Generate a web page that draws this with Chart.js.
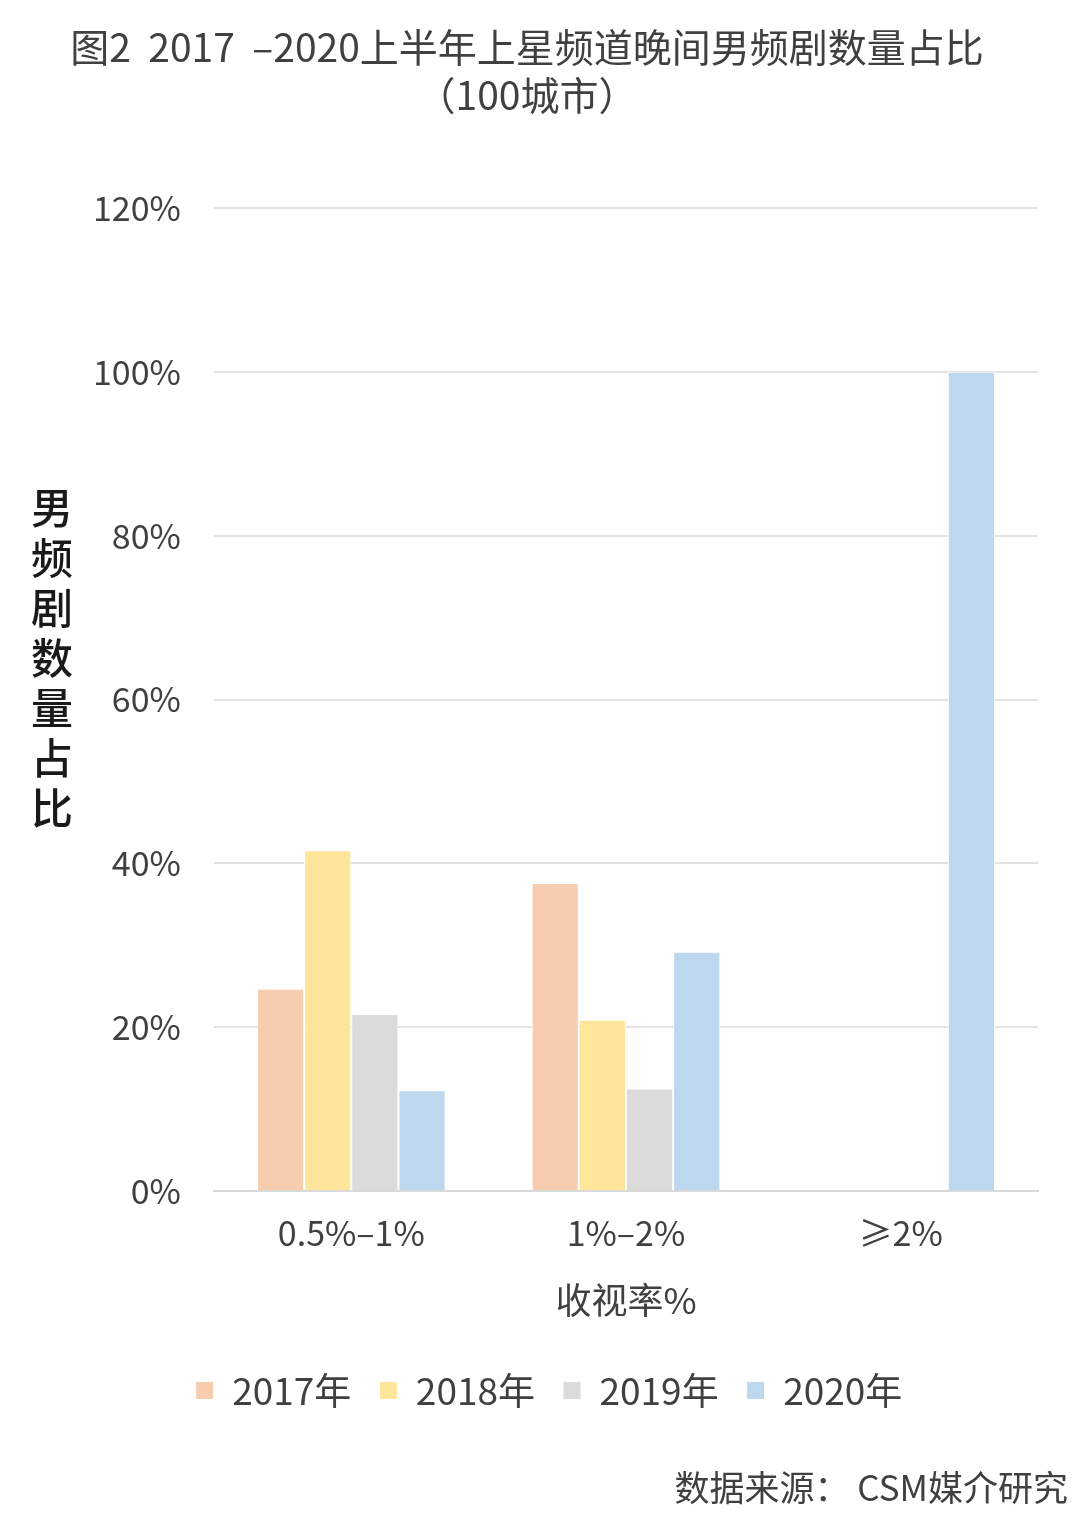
<!DOCTYPE html>
<html>
<head>
<meta charset="utf-8">
<script src="https://cdn.jsdelivr.net/npm/chart.js@4/dist/chart.umd.min.js"></script>
<style>
  html, body { margin: 0; padding: 0; background: #fff; }
  #wrap { width: 1080px; height: 1533px; position: relative; }
</style>
</head>
<body>
<div id="wrap"><canvas id="chart"></canvas></div>
<script>
const categories = ['0.5%–1%', '1%–2%', '≥2%'];
const seriesNames = ['2017年', '2018年', '2019年', '2020年'];
const share2017 = [24.7, 37.6, 0];
const share2018 = [41.6, 20.9, 0];
const share2019 = [21.6, 12.5, 0];
const share2020 = [12.3, 29.2, 100];
const yTicks = [0, 20, 40, 60, 80, 100, 120];

const colors = ['#F8CCAE', '#FEE599', '#DBDBDB', '#BDD7EE'];
const FONT = '"Noto Sans CJK SC", "Noto Sans", sans-serif';
const TEXT = '#404040';

// title, upright stacked y-axis title and the source note
const extraText = {
  id: 'extraText',
  afterDraw(chart) {
    const ctx = chart.ctx;
    ctx.save();
    ctx.textBaseline = 'middle';

    ctx.fillStyle = TEXT;
    ctx.font = '39px ' + FONT;
    ctx.textAlign = 'center';
    ctx.fillText('图2  2017  –2020上半年上星频道晚间男频剧数量占比', 527, 47);
    ctx.fillText('（100城市）', 527, 95);

    ctx.fillStyle = '#1a1a1a';
    ctx.font = '500 42px ' + FONT;
    const chars = Array.from('男频剧数量占比');
    chars.forEach((c, i) => ctx.fillText(c, 52, 508 + i * 50));

    ctx.fillStyle = TEXT;
    ctx.font = '35px ' + FONT;
    ctx.textAlign = 'right';
    ctx.fillText('数据来源： CSM媒介研究', 1068, 1488);
    ctx.restore();
  }
};

const data = [share2017, share2018, share2019, share2020];

new Chart(document.getElementById('chart'), {
  type: 'bar',
  data: {
    labels: categories,
    datasets: seriesNames.map((name, i) => ({
      label: name,
      data: data[i],
      backgroundColor: colors[i],
      borderColor: '#ffffff',
      borderWidth: 1,
      categoryPercentage: 0.687,
      barPercentage: 1
    }))
  },
  options: {
    responsive: true,
    maintainAspectRatio: false,
    animation: false,
    layout: { padding: { left: 60, right: 42, top: 208, bottom: 114 } },
    plugins: {
      title: { display: false },
      legend: {
        display: true,
        position: 'bottom',
        labels: {
          color: TEXT,
          font: { family: FONT, size: 37 },
          boxWidth: 18,
          boxHeight: 18,
          padding: 28
        }
      },
      tooltip: { enabled: false }
    },
    scales: {
      x: {
        grid: { display: false, drawTicks: false },
        border: { color: '#d9d9d9', width: 2 },
        ticks: { color: TEXT, font: { family: FONT, size: 34 }, padding: 22 },
        title: {
          display: true,
          text: '收视率%',
          color: TEXT,
          font: { family: FONT, size: 36 },
          padding: { top: 3, bottom: 22 }
        }
      },
      y: {
        min: 0,
        max: 120,
        afterBuildTicks(axis) { axis.ticks = yTicks.map(v => ({ value: v })); },
        grid: { color: '#e3e3e3', lineWidth: 2, drawTicks: false },
        border: { display: false },
        ticks: {
          color: TEXT,
          font: { family: FONT, size: 34 },
          padding: 33,
          callback: v => v + '%'
        }
      }
    }
  },
  plugins: [extraText]
});
</script>
</body>
</html>
